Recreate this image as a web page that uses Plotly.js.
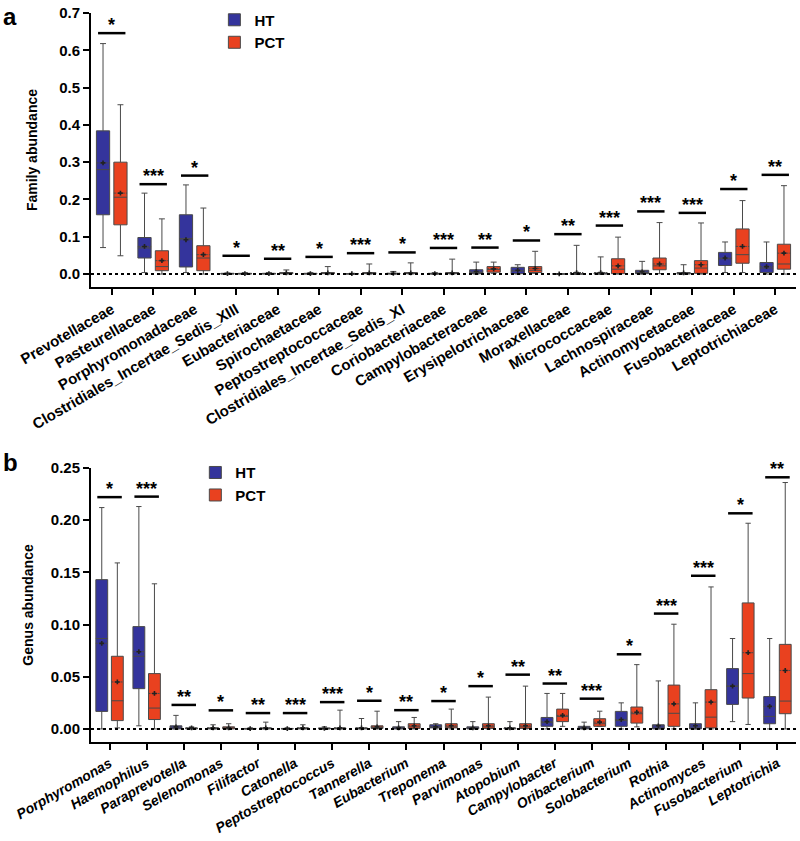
<!DOCTYPE html>
<html>
<head>
<meta charset="utf-8">
<script src="https://cdn.plot.ly/plotly-3.0.1.min.js"></script>
<style>
  body { margin: 0; background: #fff; }
  #chart { width: 800px; height: 841px; }
</style>
</head>
<body>
<div id="chart"></div>
<script>
// panel a: family level
const familyCats = ['Prevotellaceae', 'Pasteurellaceae', 'Porphyromonadaceae', 'Clostridiales_Incertae_Sedis_XIII',
  'Eubacteriaceae', 'Spirochaetaceae', 'Peptostreptococcaceae', 'Clostridiales_Incertae_Sedis_XI', 'Coriobacteriaceae',
  'Campylobacteraceae', 'Erysipelotrichaceae', 'Moraxellaceae', 'Micrococcaceae', 'Lachnospiraceae',
  'Actinomycetaceae', 'Fusobacteriaceae', 'Leptotrichiaceae'];

const famHtLo   = [0.071, 0.004, 0.004, 0, 0, 0, 0, 0, 0, 0, 0, 0, 0, 0, 0, 0.004, 0];
const famHtQ1   = [0.159, 0.043, 0.019, 0, 0, 0, 0, 0, 0, 0.001, 0.001, 0, 0, 0.001, 0, 0.023, 0.004];
const famHtMed  = [0.280, 0.070, 0.095, 0.001, 0.001, 0.001, 0.0005, 0.001, 0.001, 0.004, 0.008, 0, 0.001, 0.004, 0.001, 0.041, 0.016];
const famHtQ3   = [0.384, 0.098, 0.159, 0.002, 0.002, 0.002, 0.001, 0.002, 0.002, 0.0115, 0.018, 0.0005, 0.003, 0.010, 0.004, 0.058, 0.031];
const famHtHi   = [0.618, 0.217, 0.239, 0.003, 0.004, 0.004, 0.002, 0.007, 0.004, 0.032, 0.025, 0.001, 0.046, 0.034, 0.025, 0.086, 0.086];
const famHtMean = [0.298, 0.074, 0.092, 0.001, 0.001, 0.001, 0.001, 0.002, 0.001, 0.007, 0.010, 0.0005, 0.004, 0.006, 0.003, 0.043, 0.020];

const famPctLo   = [0.049, 0, 0, 0, 0, 0, 0, 0, 0, 0.002, 0.002, 0, 0, 0.001, 0, 0.004, 0];
const famPctQ1   = [0.132, 0.009, 0.009, 0, 0.001, 0.001, 0.001, 0.001, 0.001, 0.005, 0.004, 0, 0.001, 0.0115, 0.002, 0.029, 0.013];
const famPctMed  = [0.206, 0.020, 0.043, 0.001, 0.002, 0.002, 0.002, 0.002, 0.002, 0.012, 0.010, 0, 0.013, 0.022, 0.016, 0.052, 0.027];
const famPctQ3   = [0.300, 0.0625, 0.076, 0.002, 0.004, 0.004, 0.004, 0.004, 0.004, 0.020, 0.020, 0.001, 0.041, 0.043, 0.036, 0.121, 0.080];
const famPctHi   = [0.454, 0.148, 0.177, 0.004, 0.011, 0.020, 0.027, 0.030, 0.040, 0.032, 0.061, 0.077, 0.099, 0.138, 0.137, 0.197, 0.237];
const famPctMean = [0.217, 0.036, 0.052, 0.001, 0.003, 0.003, 0.003, 0.003, 0.003, 0.014, 0.015, 0.004, 0.022, 0.027, 0.025, 0.074, 0.056];

const famSig  = ['*', '***', '*', '*', '**', '*', '***', '*', '***', '**', '*', '**', '***', '***', '***', '*', '**'];
const famSigY = [0.646, 0.241, 0.264, 0.049, 0.041, 0.046, 0.056, 0.058, 0.070, 0.071, 0.090, 0.107, 0.130, 0.168, 0.164, 0.228, 0.266];

// panel b: genus level
const genusCats = ['Porphyromonas', 'Haemophilus', 'Paraprevotella', 'Selenomonas', 'Filifactor', 'Catonella',
  'Peptostreptococcus', 'Tannerella', 'Eubacterium', 'Treponema', 'Parvimonas', 'Atopobium', 'Campylobacter',
  'Oribacterium', 'Solobacterium', 'Rothia', 'Actinomyces', 'Fusobacterium', 'Leptotrichia'];

const genHtLo   = [0, 0.003, 0, 0, 0, 0, 0, 0, 0, 0, 0, 0, 0, 0, 0, 0, 0, 0.007, 0];
const genHtQ1   = [0.0168, 0.0386, 0, 0, 0, 0, 0, 0, 0, 0.001, 0, 0, 0.0025, 0, 0.0025, 0, 0, 0.0235, 0.005];
const genHtMed  = [0.0866, 0.0696, 0.001, 0.0005, 0, 0, 0.0003, 0.0005, 0.001, 0.002, 0.001, 0.0005, 0.006, 0.001, 0.008, 0.001, 0.001, 0.041, 0.012];
const genHtQ3   = [0.143, 0.098, 0.003, 0.001, 0.0005, 0.0005, 0.001, 0.001, 0.002, 0.004, 0.002, 0.001, 0.011, 0.0025, 0.0168, 0.004, 0.005, 0.0578, 0.031];
const genHtHi   = [0.212, 0.213, 0.013, 0.004, 0.001, 0.001, 0.002, 0.010, 0.007, 0.005, 0.007, 0.007, 0.034, 0.0065, 0.025, 0.046, 0.025, 0.0866, 0.0866];
const genHtMean = [0.082, 0.074, 0.002, 0.001, 0.0003, 0.0003, 0.0005, 0.001, 0.001, 0.002, 0.001, 0.001, 0.007, 0.001, 0.009, 0.003, 0.003, 0.041, 0.0216];

const genPctLo   = [0.001, 0, 0, 0, 0, 0, 0, 0, 0, 0, 0, 0, 0.0025, 0.0025, 0.002, 0, 0, 0.0043, 0];
const genPctQ1   = [0.008, 0.009, 0, 0, 0, 0, 0, 0.0005, 0.0005, 0.001, 0.0005, 0.0005, 0.007, 0.0025, 0.0056, 0.0025, 0.001, 0.0296, 0.0146];
const genPctMed  = [0.027, 0.020, 0.0005, 0.001, 0.0005, 0.0005, 0.0005, 0.001, 0.002, 0.002, 0.002, 0.002, 0.012, 0.005, 0.0146, 0.015, 0.0113, 0.053, 0.0267];
const genPctQ3   = [0.0696, 0.053, 0.001, 0.002, 0.001, 0.001, 0.001, 0.003, 0.005, 0.005, 0.005, 0.005, 0.019, 0.0098, 0.021, 0.042, 0.0376, 0.1207, 0.081];
const genPctHi   = [0.159, 0.139, 0.002, 0.005, 0.0065, 0.004, 0.018, 0.017, 0.011, 0.019, 0.0305, 0.041, 0.034, 0.017, 0.0616, 0.1003, 0.136, 0.197, 0.236];
const genPctMean = [0.045, 0.034, 0.001, 0.001, 0.001, 0.001, 0.001, 0.002, 0.003, 0.003, 0.003, 0.003, 0.013, 0.0065, 0.016, 0.024, 0.0257, 0.073, 0.056];

const genSig  = ['*', '***', '**', '*', '**', '***', '***', '*', '**', '*', '*', '**', '**', '***', '*', '***', '***', '*', '**'];
const genSigY = [0.222, 0.2225, 0.023, 0.0178, 0.0152, 0.0152, 0.0257, 0.027, 0.018, 0.0267, 0.041, 0.052, 0.0435, 0.029, 0.0715, 0.1105, 0.1467, 0.2065, 0.241];

const FONT = 'Liberation Sans, Arial, sans-serif';
const HT_COLOR = '#34349c';
const PCT_COLOR = '#e9411f';

// boxes and mean markers share offsetgroups so they line up side by side
function boxTrace(name, group, cats, lo, q1, med, q3, hi, mean, fill, xa, ya, legend) {
  return {
    type: 'box', name: name, x: cats, offsetgroup: group,
    lowerfence: lo, q1: q1, median: med, q3: q3, upperfence: hi, mean: mean,
    boxpoints: false, whiskerwidth: 0.45,
    fillcolor: fill, line: { color: '#4a4a4a', width: 1 },
    xaxis: xa, yaxis: ya, legend: legend, hoverinfo: 'skip'
  };
}

function meanTrace(cats, mean, group, xa, ya) {
  return {
    type: 'scatter', mode: 'markers', x: cats, y: mean, offsetgroup: group,
    marker: { symbol: 'cross', size: 4, color: '#222' },
    xaxis: xa, yaxis: ya, showlegend: false, hoverinfo: 'skip'
  };
}

const traces = [
  boxTrace('HT', 'ht', familyCats, famHtLo, famHtQ1, famHtMed, famHtQ3, famHtHi, famHtMean, HT_COLOR, 'x', 'y', 'legend'),
  boxTrace('PCT', 'pct', familyCats, famPctLo, famPctQ1, famPctMed, famPctQ3, famPctHi, famPctMean, PCT_COLOR, 'x', 'y', 'legend'),
  meanTrace(familyCats, famHtMean, 'ht', 'x', 'y'),
  meanTrace(familyCats, famPctMean, 'pct', 'x', 'y'),
  boxTrace('HT', 'ht', genusCats, genHtLo, genHtQ1, genHtMed, genHtQ3, genHtHi, genHtMean, HT_COLOR, 'x2', 'y2', 'legend2'),
  boxTrace('PCT', 'pct', genusCats, genPctLo, genPctQ1, genPctMed, genPctQ3, genPctHi, genPctMean, PCT_COLOR, 'x2', 'y2', 'legend2'),
  meanTrace(genusCats, genHtMean, 'ht', 'x2', 'y2'),
  meanTrace(genusCats, genPctMean, 'pct', 'x2', 'y2')
];

// dotted zero lines, significance bars and stars
const shapes = [];
const annotations = [];
['x', 'x2'].forEach((xa, i) => {
  const ya = i === 0 ? 'y' : 'y2';
  shapes.push({ type: 'line', xref: xa + ' domain', yref: ya, x0: 0, x1: 1, y0: 0, y1: 0,
    line: { color: '#000', width: 2, dash: 'dot' } });
});
function addSig(cats, sig, sigY, xa, ya) {
  cats.forEach((c, i) => {
    shapes.push({ type: 'line', xref: xa, yref: ya, x0: c, x1: c, x0shift: -0.33, x1shift: 0.33,
      y0: sigY[i], y1: sigY[i], line: { color: '#000', width: 2.5 } });
    annotations.push({ xref: xa, yref: ya, x: c, y: sigY[i], text: sig[i], showarrow: false,
      yanchor: 'bottom', yshift: -4, font: { family: FONT, size: 18, color: '#000', weight: 'bold' } });
  });
}
addSig(familyCats, famSig, famSigY, 'x', 'y');
addSig(genusCats, genSig, genSigY, 'x2', 'y2');

annotations.push({ xref: 'paper', yref: 'paper', x: -0.128, y: 1.016, xanchor: 'left', yanchor: 'top',
  text: 'a', showarrow: false, font: { family: FONT, size: 24, color: '#000', weight: 'bold' } });
annotations.push({ xref: 'paper', yref: 'paper', x: -0.128, y: 0.405, xanchor: 'left', yanchor: 'top',
  text: 'b', showarrow: false, font: { family: FONT, size: 24, color: '#000', weight: 'bold' } });

const axisBase = {
  showline: true, linewidth: 2, linecolor: '#000', ticks: 'outside', ticklen: 6, tickwidth: 2,
  tickcolor: '#000', showgrid: false, zeroline: false
};

const layout = {
  width: 800, height: 841,
  margin: { l: 91, r: 4, t: 13, b: 99 },
  paper_bgcolor: '#fff', plot_bgcolor: '#fff',
  font: { family: FONT, color: '#000' },
  boxmode: 'group', boxgap: 0.16, boxgroupgap: 0.24,
  scattermode: 'group', scattergap: 0.16,
  xaxis: Object.assign({}, axisBase, {
    domain: [0, 1], anchor: 'y', type: 'category', range: [-0.5, 16.5], tickangle: -30,
    tickfont: { family: FONT, size: 15, weight: 'bold' }
  }),
  yaxis: Object.assign({}, axisBase, {
    domain: [0.624, 1], anchor: 'x', range: [-0.035, 0.7], dtick: 0.1, tickformat: '.1f',
    tickfont: { family: FONT, size: 15, weight: 'bold' },
    title: { text: 'Family abundance', font: { family: FONT, size: 14, weight: 'bold' }, standoff: 18 }
  }),
  xaxis2: Object.assign({}, axisBase, {
    domain: [0, 1], anchor: 'y2', type: 'category', range: [-0.5, 18.5], tickangle: -30,
    tickfont: { family: FONT, size: 14, weight: 'bold', style: 'italic' }
  }),
  yaxis2: Object.assign({}, axisBase, {
    domain: [0, 0.376], anchor: 'x2', range: [-0.0125, 0.25], dtick: 0.05, tickformat: '.2f',
    tickfont: { family: FONT, size: 15, weight: 'bold' },
    title: { text: 'Genus abundance', font: { family: FONT, size: 14, weight: 'bold' }, standoff: 14 }
  }),
  legend: { x: 0.175, y: 1.013, xanchor: 'left', yanchor: 'top', bgcolor: 'rgba(0,0,0,0)',
    font: { family: FONT, size: 15, weight: 'bold' } },
  legend2: { x: 0.148, y: 0.392, xanchor: 'left', yanchor: 'top', bgcolor: 'rgba(0,0,0,0)',
    font: { family: FONT, size: 15, weight: 'bold' } },
  shapes: shapes,
  annotations: annotations
};

Plotly.newPlot('chart', traces, layout, { staticPlot: true });
</script>
</body>
</html>
